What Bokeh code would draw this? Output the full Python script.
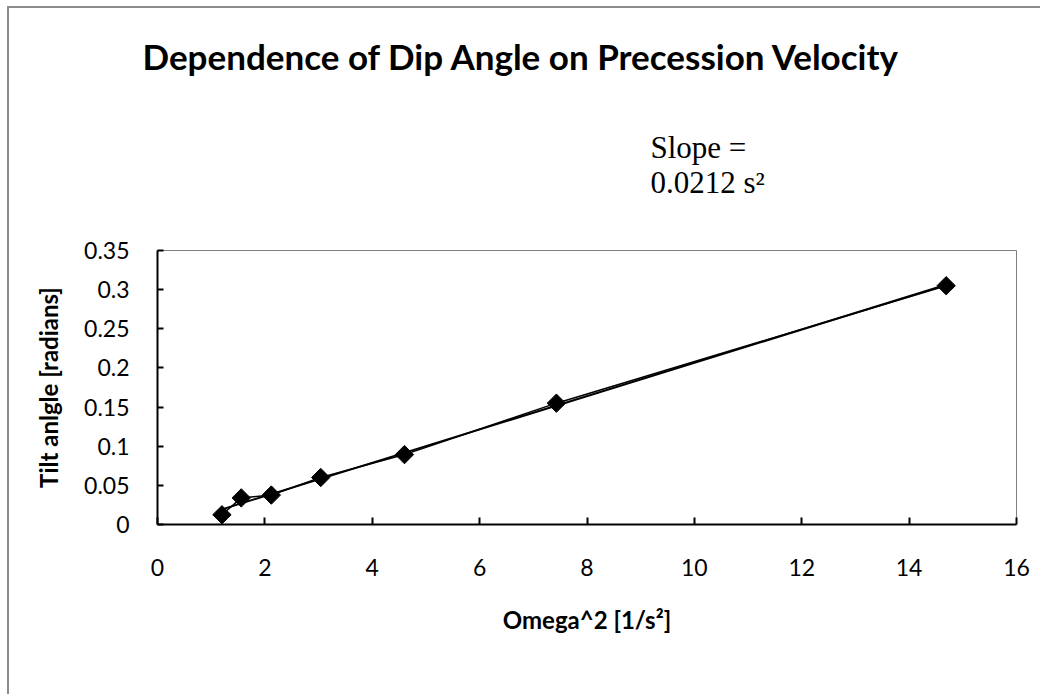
import numpy as np
from bokeh.plotting import figure
from bokeh.models import Range1d, FixedTicker, Title
from bokeh.embed import file_html
from bokeh.resources import INLINE

# ---- data ----
omega_sq = [1.20, 1.56, 2.12, 3.04, 4.60, 7.43, 14.69]
tilt = [0.0124, 0.034, 0.0376, 0.060, 0.0893, 0.155, 0.305]
x_ticks = [0, 2, 4, 6, 8, 10, 12, 14, 16]
y_ticks = [0, 0.05, 0.1, 0.15, 0.2, 0.25, 0.3, 0.35]
y_tick_labels = ["0", "0.05", "0.1", "0.15", "0.2", "0.25", "0.3", "0.35"]
title_text = "Dependence of Dip Angle on Precession Velocity"
slope_text = "Slope =\n0.0212 s\u00b2"

# linear trendline (least squares over the data)
m, b = np.polyfit(omega_sq, tilt, 1)
trend_x = [min(omega_sq), max(omega_sq)]
trend_y = [m * v + b for v in trend_x]

p = figure(width=1040, height=694, output_backend="svg", toolbar_location=None,
           x_range=Range1d(0, 16), y_range=Range1d(0, 0.35),
           min_border_left=157, min_border_right=24,
           min_border_top=250, min_border_bottom=170)
p.styles = {"background": "linear-gradient(#8c8c8c,#8c8c8c) 7px 6px / 2px 100% no-repeat, "
                          "linear-gradient(#8c8c8c,#8c8c8c) 7px 6px / 100% 2px no-repeat, white"}
p.background_fill_color = "white"
p.border_fill_color = None
p.outline_line_color = "#808080"
p.outline_line_width = 1
p.xgrid.visible = False
p.ygrid.visible = False

FONT = "Lato"
for ax in (p.xaxis[0], p.yaxis[0]):
    ax.axis_line_color = "black"
    ax.axis_line_width = 2
    ax.major_tick_line_color = "black"
    ax.major_tick_line_width = 2
    ax.major_tick_out = 0
    ax.minor_tick_line_color = None
    ax.major_label_text_font = FONT
    ax.major_label_text_font_size = "23px"
    ax.major_label_text_color = "black"
    ax.axis_label_text_font = FONT
    ax.axis_label_text_font_style = "bold"
    ax.axis_label_text_font_size = "24px"
    ax.axis_label_text_color = "black"

p.xaxis.ticker = FixedTicker(ticks=x_ticks)
p.yaxis.ticker = FixedTicker(ticks=y_ticks)
p.yaxis.major_label_overrides = {t: l for t, l in zip(y_ticks, y_tick_labels)}
p.xaxis.major_tick_in = 7
p.yaxis.major_tick_in = 6
p.xaxis.major_label_standoff = 34
p.yaxis.major_label_standoff = 28
p.xaxis.axis_label = "Omega^2 [1/s\u00b2]"
p.yaxis.axis_label = "Tilt anlgle [radians]"
p.xaxis.axis_label_standoff = 26
p.yaxis.axis_label_standoff = 18

# connecting line and trendline
p.line(omega_sq, tilt, line_color="black", line_width=1.5)
p.line(trend_x, trend_y, line_color="black", line_width=2)
p.scatter(omega_sq, tilt, marker="square", size=13, angle=np.pi / 4,
          fill_color="black", line_color="black")

# texts above the plot frame (first added sits nearest the frame)
p.add_layout(Title(text=slope_text, align="left", offset=493, standoff=102,
                   text_font="Liberation Serif", text_font_style="normal",
                   text_font_size="31px", text_line_height=1.0,
                   text_color="black"), "above")
p.add_layout(Title(text=title_text, align="left", offset=-15, standoff=0,
                   text_font=FONT, text_font_style="bold",
                   text_font_size="35px", text_color="black"), "above")

open("out.html", "w").write(file_html(p, INLINE))
